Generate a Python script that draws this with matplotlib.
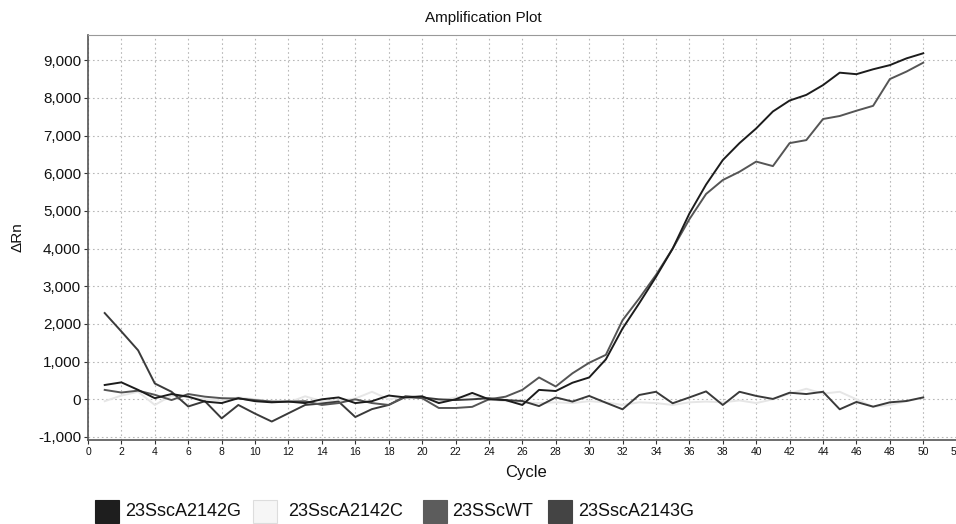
import matplotlib
matplotlib.use("Agg")
import matplotlib.pyplot as plt
from matplotlib.patches import Rectangle
import numpy as np

plt.rcParams['font.family'] = ['Liberation Sans', 'DejaVu Sans']

cycles = list(range(1, 51))

s_2142G = [380, 450, 250, 30, 140, 70, -60, -100, 30, -50,
           -80, -60, -100, 0, 50, -100, -50, 100, 50, 80,
           -100, 0, 170, 0, -20, -150, 250, 220, 440, 580,
           1060, 1880, 2550, 3250, 4000, 4930, 5700, 6350, 6800, 7190,
           7640, 7930, 8080, 8340, 8670, 8630, 8760, 8870, 9050, 9185]

s_2142C = [-50, 100, 200, -150, 100, 50, 0, -30, 50, 0,
           -60, -80, 80, -50, -30, 20, 200, 0, 80, 30,
           -50, 50, 100, 0, -50, -80, -100, -80, -100, -50,
           -80, -150, -80, -100, -150, -80, -60, -80, -30, -100,
           0, 150, 280, 150, 200, 0, -200, -150, -50, 50]

s_WT = [250, 180, 230, 120, -20, 140, 70, 30, 20, -20,
        -60, -60, -50, -150, -100, 0, -100, -150, 60, 30,
        -230, -230, -200, 0, 70, 250, 580, 340, 690, 970,
        1180, 2100, 2680, 3300, 4000, 4780, 5450, 5820, 6040, 6310,
        6190, 6800, 6880, 7440, 7520, 7660, 7790, 8500, 8700, 8935]

s_2143G = [2290, 1800, 1300, 420, 200, -190, -50, -505, -150, -380,
           -590, -370, -150, -110, -60, -470, -260, -150, 80, 50,
           0, -20, 0, 30, -20, -45, -180, 50, -60, 90,
           -90, -265, 115, 200, -105, 50, 210, -150, 200, 90,
           10, 175, 140, 200, -265, -70, -195, -80, -45, 50]

series_names = ['23SscA2142G', '23SscA2142C', '23SScWT', '23SscA2143G']
line_colors = ['#1c1c1c', '#e6e6e6', '#555555', '#3a3a3a']
swatch_colors = ['#1e1e1e', '#f6f6f6', '#5c5c5c', '#444444']
series = [s_2142G, s_2142C, s_WT, s_2143G]

xticks = list(range(0, 54, 2))
yticks = list(range(-1000, 10000, 1000))

fig = plt.figure(figsize=(9.56, 5.24), dpi=100)
ax = fig.add_axes([88/956, (524-440)/524, (965-88)/956, (440-35)/524])

draw_order = [1, 3, 2, 0]
for i in draw_order:
    ax.plot(cycles, series[i], color=line_colors[i], lw=1.4, zorder=3)

ax.set_xlim(0, 52.5)
ax.set_ylim(-1080, 9670)
ax.set_xticks(xticks)
ax.set_yticks(yticks)
ax.set_yticklabels([f"{v:,}" for v in yticks], fontsize=11)
ax.set_xticklabels([str(v) for v in xticks], fontsize=7.5)
ax.grid(True, color='#b8b8b8', linestyle=(0, (1.5, 2.5)), linewidth=0.8)
ax.set_axisbelow(True)
ax.tick_params(axis='both', colors='#333333', length=3, width=0.8, pad=2)
for t in ax.get_yticklabels() + ax.get_xticklabels():
    t.set_color('#111111')
ax.spines['left'].set_color('#555555')
ax.spines['bottom'].set_color('#555555')
ax.spines['left'].set_linewidth(1.2)
ax.spines['bottom'].set_linewidth(1.2)
ax.spines['top'].set_color('#999999')
ax.spines['right'].set_visible(False)

fig.text(483/956, 1 - 18/524, 'Amplification Plot', ha='center', va='center', fontsize=11, color='#111111')
fig.text(18/956, 1 - 237/524, 'ΔRn', rotation=90, ha='center', va='center', fontsize=11, color='#111111')
fig.text(526/956, 1 - 473/524, 'Cycle', ha='center', va='center', fontsize=12, color='#111111')

# legend
sw_x = [95, 253, 423, 548]
tx_x = [125, 288, 452, 578]
for i in range(4):
    r = Rectangle((sw_x[i]/956, 1 - 523/524), 24/956, 23/524, transform=fig.transFigure,
                  facecolor=swatch_colors[i], edgecolor='#dddddd' if i == 1 else swatch_colors[i], lw=0.8)
    fig.patches.append(r)
    fig.text(tx_x[i]/956, 1 - 512/524, series_names[i], ha='left', va='center', fontsize=13, color='#111111')

fig.savefig('out.png', dpi=100)
